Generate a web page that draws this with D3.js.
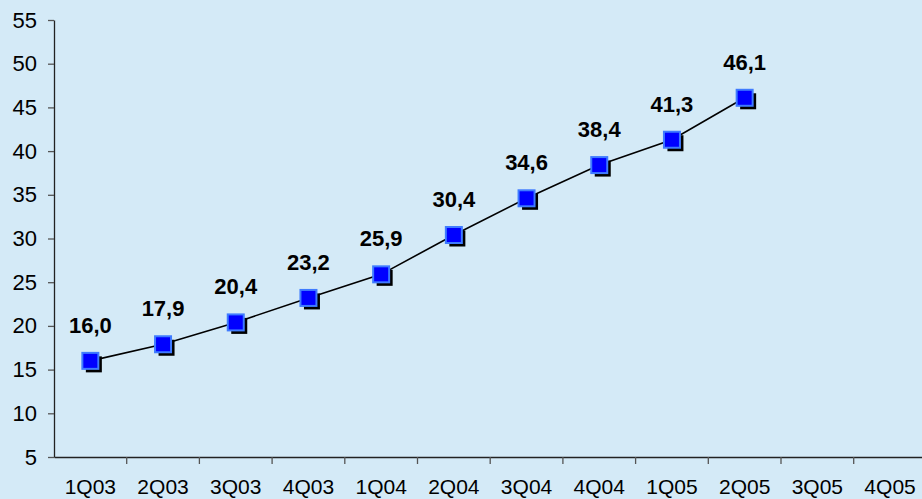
<!DOCTYPE html>
<html>
<head>
<meta charset="utf-8">
<script src="https://cdn.jsdelivr.net/npm/d3@7"></script>
<style>
html,body{margin:0;padding:0;background:#d4eaf7;}
svg{display:block;}
text{font-family:"Liberation Sans",Arial,sans-serif;}
</style>
</head>
<body>
<script>
const categories = ["1Q03","2Q03","3Q03","4Q03","1Q04","2Q04","3Q04","4Q04","1Q05","2Q05","3Q05","4Q05"];
const seriesCategories = ["1Q03","2Q03","3Q03","4Q03","1Q04","2Q04","3Q04","4Q04","1Q05","2Q05"];
const seriesValues = [16.0,17.9,20.4,23.2,25.9,30.4,34.6,38.4,41.3,46.1];
const yTicks = [5,10,15,20,25,30,35,40,45,50,55];

const W = 922, H = 499;
const svg = d3.select("body").append("svg").attr("width", W).attr("height", H);
svg.append("rect").attr("width", W).attr("height", H).attr("fill", "#d4eaf7");

const x0 = 54, step = 72.7;
const x = d3.scaleBand().domain(categories).range([x0, x0 + step * categories.length]).padding(0);
const y = d3.scaleLinear().domain([5, 55]).range([457, 20]);

// Y axis
const yAx = svg.append("g").attr("transform", `translate(${x0},0)`)
  .call(d3.axisLeft(y).tickValues(yTicks).tickSize(6).tickSizeOuter(0).tickPadding(11));
yAx.select(".domain").attr("stroke", "#222").attr("stroke-width", 1.3);
yAx.selectAll(".tick line").attr("stroke", "#555").attr("stroke-width", 1.3);
yAx.selectAll(".tick text").attr("font-size", 22).attr("fill", "#000")
  .attr("font-family", "Liberation Sans, Arial, sans-serif");

// X axis
const xAx = svg.append("g").attr("transform", `translate(0,${y(5)})`)
  .call(d3.axisBottom(x).tickSize(0).tickSizeOuter(0).tickPadding(0));
xAx.select(".domain").attr("stroke", "#222").attr("stroke-width", 1.3);
xAx.selectAll(".tick text").attr("font-size", 21).attr("fill", "#000")
  .attr("font-family", "Liberation Sans, Arial, sans-serif")
  .attr("dy", null).attr("y", 37);
// boundary ticks between categories
xAx.selectAll(".btick").data(categories.slice(1)).enter().append("line")
  .attr("class", "btick")
  .attr("x1", d => x(d)).attr("x2", d => x(d))
  .attr("y1", 0).attr("y2", 7)
  .attr("stroke", "#555").attr("stroke-width", 1.3);

const pts = seriesCategories.map((c, i) => ({c, v: seriesValues[i]}));
const cx = d => x(d.c) + x.bandwidth() / 2;

// line
svg.append("path").datum(pts)
  .attr("fill", "none").attr("stroke", "#000").attr("stroke-width", 1.6)
  .attr("d", d3.line().x(cx).y(d => y(d.v)));

// markers with shadow
const s = 16;
svg.selectAll(".shadow").data(pts).enter().append("rect")
  .attr("x", d => cx(d) - s/2 + 3.5).attr("y", d => y(d.v) - s/2 + 3.5)
  .attr("width", s).attr("height", s).attr("fill", "#000");
svg.selectAll(".mk").data(pts).enter().append("rect")
  .attr("x", d => cx(d) - s/2).attr("y", d => y(d.v) - s/2)
  .attr("width", s).attr("height", s)
  .attr("fill", "#0000ff").attr("stroke", "#3f7bff").attr("stroke-width", 2);

// labels
svg.selectAll(".lbl").data(pts).enter().append("text")
  .attr("x", cx).attr("y", d => y(d.v) - 28)
  .attr("text-anchor", "middle").attr("font-size", 22).attr("font-weight", "bold")
  .attr("fill", "#000")
  .text(d => d.v.toFixed(1).replace(".", ","));
</script>
</body>
</html>
